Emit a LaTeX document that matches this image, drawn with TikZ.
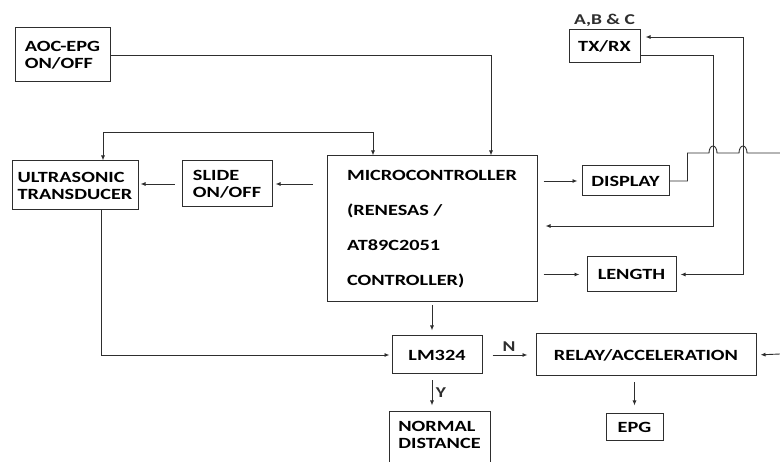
\documentclass[tikz,border=0pt]{standalone}
\usepackage{fontspec}
\setmainfont{Carlito}[FakeStretch=1.3]
\usetikzlibrary{arrows.meta, positioning, calc}
\definecolor{ink}{HTML}{2E2E2E}

\begin{document}
\begin{tikzpicture}[
      x=1pt, y=1pt,
      box/.style={draw=ink, line width=1pt, inner sep=2pt, align=left, font=\fontsize{15.6}{17}\selectfont\bfseries},
      arr/.style={-{Latex[length=5pt, width=4pt]}, draw=ink, line width=0.9pt},
      both/.style={{Latex[length=5pt, width=4pt]}-{Latex[length=5pt, width=4pt]}, draw=ink, line width=0.9pt},
      wire/.style={draw=ink, line width=0.9pt},
      lab/.style={font=\fontsize{15}{17}\selectfont\bfseries, text=ink}
    ]
    \clip (0,0) rectangle (780,-462);
    \fill[white] (0,0) rectangle (780,-462);
    % blocks
    \node[box, minimum width=95, minimum height=54] (aoc) at (62.5,-55) {AOC-EPG\\ON/OFF};
    \node[box, minimum width=126, minimum height=49] (ultra) at (75,-185.5) {ULTRASONIC\\TRANSDUCER};
    \node[box, minimum width=90, minimum height=46] (slide) at (227,-184) {SLIDE\\ON/OFF};
    \node[box, minimum width=210, minimum height=146, font=\fontsize{15.6}{35}\selectfont\bfseries] (micro) at (432,-229)
      {MICROCONTROLLER\\(RENESAS /\\AT89C2051\\CONTROLLER)};
    \node[box, minimum width=71, minimum height=33] (txrx) at (604.5,-46.5) {TX/RX};
    \node[lab, above=-1pt of txrx] (abc) {A,B \& C};
    \node[box, minimum width=87, minimum height=30] (display) at (625.5,-181) {DISPLAY};
    \node[box, minimum width=89, minimum height=35] (length) at (631.5,-274.5) {LENGTH};
    \node[box, minimum width=90, minimum height=38] (lm) at (437,-355) {LM324};
    \node[box, minimum width=220, minimum height=42] (relay) at (646,-355) {RELAY/ACCELERATION};
    \node[box, minimum width=101, minimum height=56] (normal) at (439.5,-440) {NORMAL\\DISTANCE\\[-6pt]};
    \node[box, minimum width=57, minimum height=27] (epg) at (634.5,-427.5) {EPG};
    \coordinate (relayin) at (780,-354);
    \coordinate (dispout) at (780,-153);
    % connectors
    \draw[arr] (aoc.east) -| ([xshift=59]micro.north);
    \draw[both] ([xshift=28]ultra.north) -- ++(0,28) -| ([xshift=-59]micro.north);
    \draw[arr, shorten <=14pt, shorten >=3pt] (micro.west |- slide.east) -- (slide.east);
    \draw[arr, shorten <=7pt, shorten >=2pt] (slide.west) -- (ultra.east |- slide.west);
    \draw[arr, shorten >=2pt] ([xshift=26]ultra.south) |- (lm.west);
    \draw[arr, shorten <=3pt, shorten >=5pt] ([xshift=-5]lm.north |- micro.south) -- ([xshift=-5]lm.north);
    \draw[arr, shorten <=10pt, shorten >=8pt] (lm.east) -- node[lab, above]{N} (relay.west);
    \draw[arr, shorten >=4pt] (relayin) -- (relay.east);
    \draw[arr, shorten <=6pt, shorten >=6pt] ([xshift=-5]lm.south) -- node[lab, right]{Y} ([xshift=-5]lm.south |- normal.north);
    \draw[arr, shorten <=6pt, shorten >=8pt] (epg.north |- relay.south) -- (epg.north);
    \draw[arr, shorten <=6pt, shorten >=4pt] (micro.east |- display.west) -- (display.west);
    \draw[arr, shorten <=6pt, shorten >=7pt] (micro.east |- length.west) -- (length.west);
    \draw[arr, shorten >=8pt] ([yshift=-8.5]txrx.east) -| ([xshift=176, yshift=3]micro.east) -- ([yshift=3]micro.east);
    \draw[both, shorten <=5pt, shorten >=4pt] ([yshift=9.5]txrx.east) -| ([xshift=67]length.east) -- (length.east);
    \draw[wire] (display.east) -- ++(18,0) |- (709,-153)
      arc[start angle=180, end angle=0, x radius=4, y radius=7] -- (739,-153)
      arc[start angle=180, end angle=0, x radius=4, y radius=7] -- (dispout);
\end{tikzpicture}
\end{document}
